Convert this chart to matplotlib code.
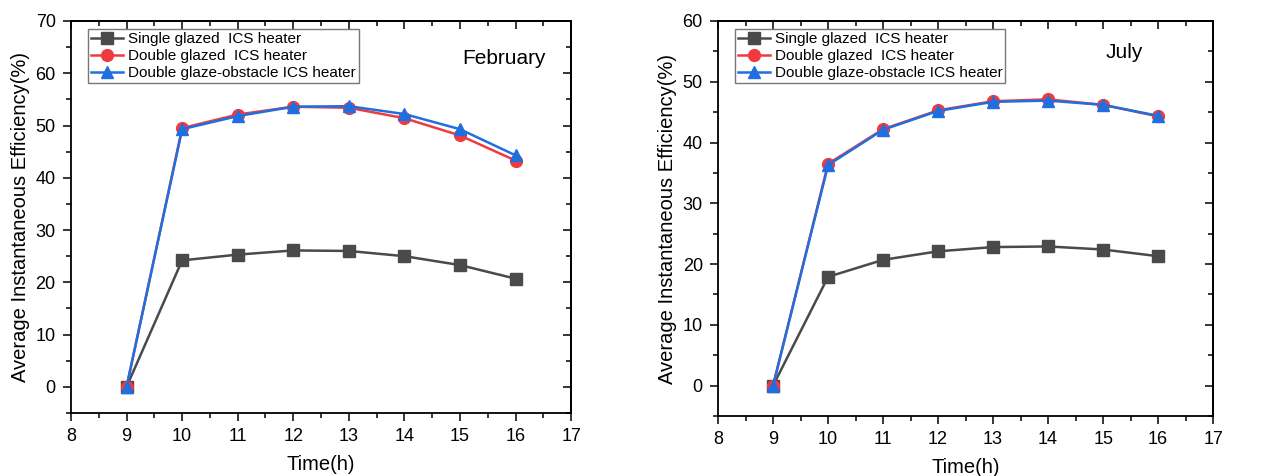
import matplotlib
matplotlib.use("Agg")
import matplotlib.pyplot as plt
from matplotlib.ticker import MultipleLocator, NullFormatter

plt.rcParams['font.family'] = ['Liberation Sans', 'DejaVu Sans']

hours = [9, 10, 11, 12, 13, 14, 15, 16]
labels = ["Single glazed  ICS heater", "Double glazed  ICS heater", "Double glaze-obstacle ICS heater"]

feb_single = [0, 24.2, 25.3, 26.1, 26.0, 25.0, 23.3, 20.7]
feb_double = [0, 49.5, 52.1, 53.6, 53.4, 51.4, 48.1, 43.3]
feb_obst = [0, 49.3, 51.8, 53.6, 53.7, 52.2, 49.3, 44.3]

jul_single = [0, 17.9, 20.7, 22.1, 22.8, 22.9, 22.4, 21.3]
jul_double = [0, 36.5, 42.2, 45.3, 46.8, 47.1, 46.2, 44.3]
jul_obst = [0, 36.3, 42.1, 45.2, 46.7, 46.9, 46.2, 44.4]

colors = ['#4a4a4a', '#f03a3e', '#1f6fe0']
markers = ['s', 'o', '^']

fig = plt.figure(figsize=(12.77, 4.76), dpi=100)
ax1 = fig.add_axes([0.0556, 0.1324, 0.3916, 0.8235])
ax2 = fig.add_axes([0.5623, 0.126, 0.3877, 0.8299])

def draw(ax, series, ylim, month, mpos):
    for s, c, m, l in zip(series, colors, markers, labels):
        ax.plot(hours, s, color=c, marker=m, markersize=8.5, linewidth=1.8, label=l)
    ax.set_xlim(8, 17)
    ax.set_ylim(*ylim)
    ax.xaxis.set_major_locator(MultipleLocator(1))
    ax.xaxis.set_minor_locator(MultipleLocator(0.5))
    ax.yaxis.set_major_locator(MultipleLocator(10))
    ax.yaxis.set_minor_locator(MultipleLocator(5))
    ax.tick_params(which='both', direction='out', labelsize=13)
    ax.tick_params(which='major', length=6, width=1.1, pad=5)
    ax.tick_params(which='minor', length=3.5, width=1.1)
    # inward ticks on top/right
    top = ax.secondary_xaxis('top')
    top.xaxis.set_major_locator(MultipleLocator(1))
    top.xaxis.set_minor_locator(MultipleLocator(0.5))
    top.xaxis.set_major_formatter(NullFormatter())
    top.tick_params(which='both', direction='in', width=1.1)
    top.tick_params(which='major', length=6)
    top.tick_params(which='minor', length=3.5)
    right = ax.secondary_yaxis('right')
    right.yaxis.set_major_locator(MultipleLocator(10))
    right.yaxis.set_minor_locator(MultipleLocator(5))
    right.yaxis.set_major_formatter(NullFormatter())
    right.tick_params(which='both', direction='in', width=1.1)
    right.tick_params(which='major', length=6)
    right.tick_params(which='minor', length=3.5)
    for sp in list(ax.spines.values()) + [top.spines['top'], right.spines['right']]:
        sp.set_linewidth(1.3)
    ax.set_xlabel("Time(h)", fontsize=14.5, labelpad=7)
    ax.set_ylabel("Average Instantaneous Efficiency(%)", fontsize=14.5, labelpad=4)
    leg = ax.legend(loc='upper left', bbox_to_anchor=(0.034, 0.98), fontsize=11,
                    frameon=True, fancybox=False, edgecolor='#555555',
                    handlelength=2.1, handletextpad=0.3, borderpad=0.2,
                    labelspacing=0.2, borderaxespad=0)
    leg.get_frame().set_linewidth(1.0)
    ax.text(mpos[0], mpos[1], month, transform=ax.transAxes, fontsize=15, ha='left', va='center')

draw(ax1, [feb_single, feb_double, feb_obst], (-5, 70), "February", (0.782, 0.905))
draw(ax2, [jul_single, jul_double, jul_obst], (-5, 60), "July", (0.782, 0.919))

fig.savefig("out.png", dpi=100)
